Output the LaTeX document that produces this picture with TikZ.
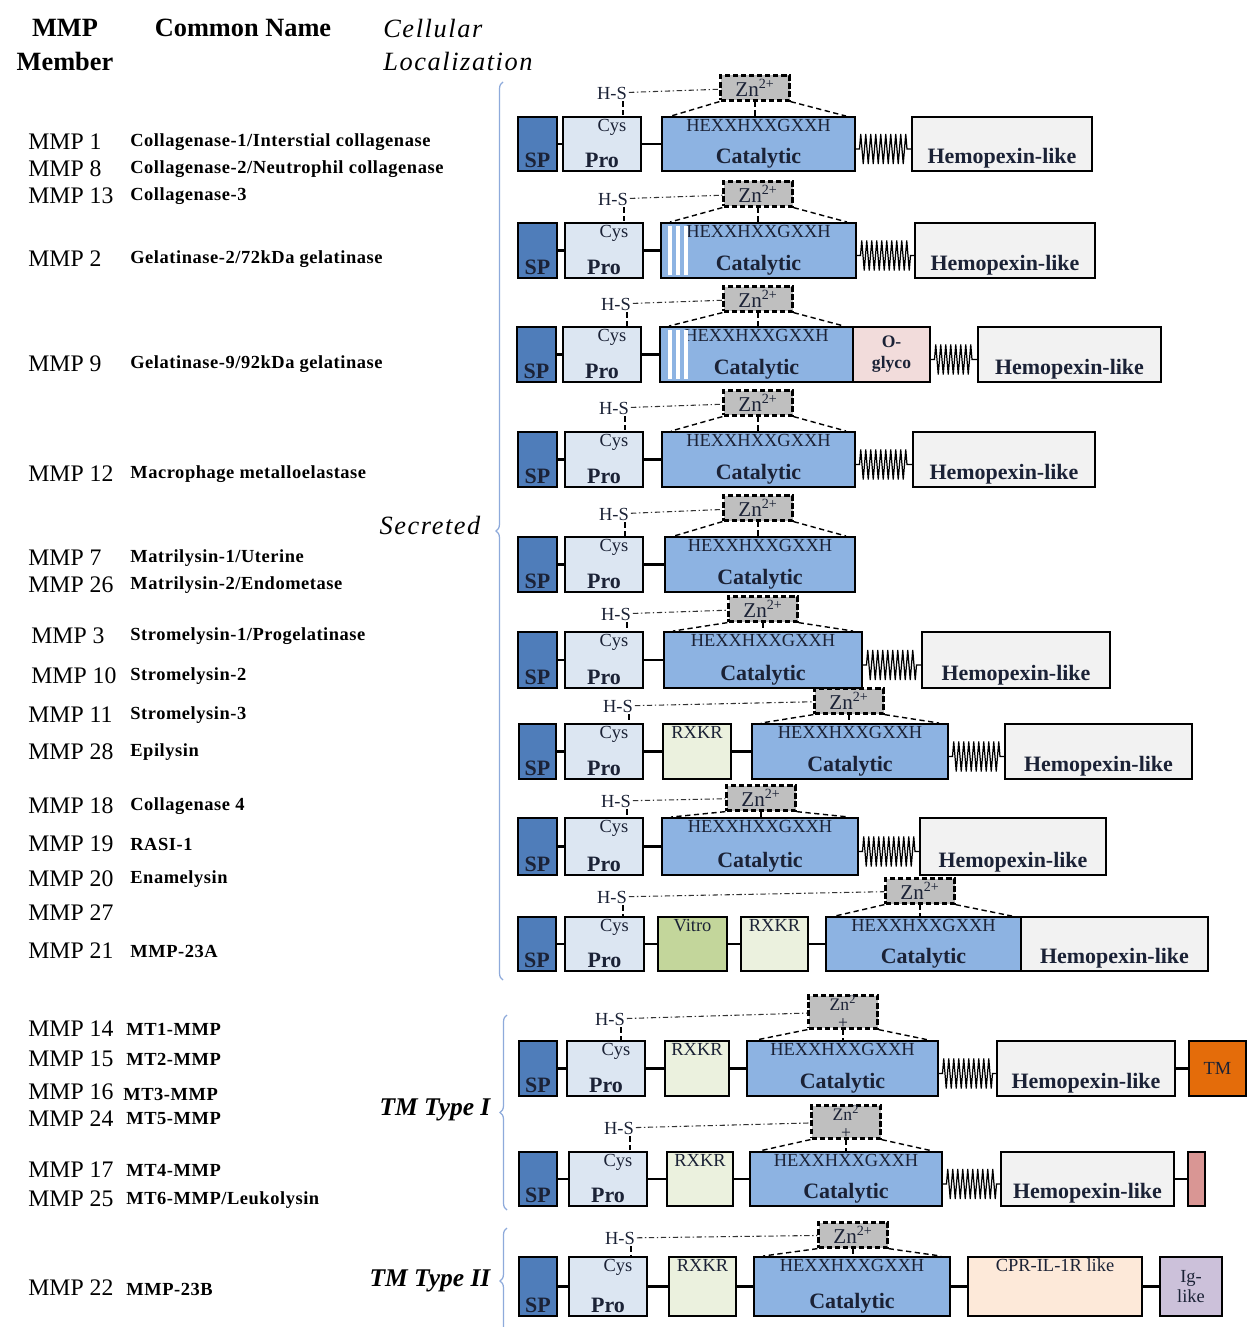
\documentclass[tikz,border=0pt]{standalone}
\usepackage{fontspec}
\setmainfont{Liberation Serif}
\usepackage{tikz}
\usetikzlibrary{positioning,decorations.pathmorphing,decorations.pathreplacing}

\definecolor{spblue}{HTML}{4F7DBA}
\definecolor{problue}{HTML}{DCE6F2}
\definecolor{catblue}{HTML}{8DB3E2}
\definecolor{hemgray}{HTML}{F2F2F2}
\definecolor{zngray}{HTML}{BFBFBF}
\definecolor{glycopink}{HTML}{F2DCDB}
\definecolor{furin}{HTML}{EBF1DE}
\definecolor{vitrogreen}{HTML}{C3D69B}
\definecolor{tmorange}{HTML}{E46C0A}
\definecolor{gpirose}{HTML}{D99694}
\definecolor{cprpeach}{HTML}{FDE9D9}
\definecolor{iglilac}{HTML}{CCC1DA}
\definecolor{bracecol}{HTML}{8EAADB}
\definecolor{ink}{HTML}{1B2236}

% domain box: name, style, x1, x2, y1, y2 (pixel units)
\newcommand{\dom}[6]{%
  \node[#2, minimum width={(#4-#3)*0.02cm}, minimum height={(#6-#5)*0.02cm}]
    (#1) at ({(#3+#4)/2},{(#5+#6)/2}) {};}

\tikzset{
  box/.style={draw, line width=1.1pt, inner sep=0pt},
  toptxt/.style={font=\fontsize{10.5}{11}\selectfont, text=ink, inner sep=1.5pt},
  bottxt/.style={font=\bfseries\fontsize{12.5}{12.5}\selectfont, text=ink, inner sep=2pt},
  midtxt/.style={font=\fontsize{10.5}{11}\selectfont, text=ink, align=center, inner sep=0pt},
  sp/.style={box, fill=spblue, label={[bottxt, anchor=south]south:SP}},
  pro/.style={box, fill=problue, label={[toptxt, anchor=north, xshift=0.2cm]north:Cys},
    label={[bottxt, anchor=south]south:Pro}},
  cat/.style={box, fill=catblue, label={[toptxt, anchor=north]north:HEXXHXXGXXH},
    label={[bottxt, anchor=south]south:Catalytic}},
  hem/.style={box, fill=hemgray, label={[bottxt, anchor=south]south:Hemopexin-like}},
  glyco/.style={box, fill=glycopink,
    label={[midtxt, font=\bfseries\fontsize{10}{12}\selectfont]center:O-\\glyco}},
  rxkr/.style={box, fill=furin, label={[toptxt, anchor=north]north:RXKR}},
  vitro/.style={box, fill=vitrogreen, label={[toptxt, anchor=north]north:Vitro}},
  tmdom/.style={box, fill=tmorange, label={[midtxt]center:TM}},
  gpi/.style={box, fill=gpirose},
  cpr/.style={box, fill=cprpeach, label={[toptxt, anchor=north]north:CPR-IL-1R like}},
  ig/.style={box, fill=iglilac, label={[midtxt]center:Ig-\\like}},
  zn/.style={draw, fill=zngray, line width=1.3pt, dash pattern=on 3pt off 1.6pt,
    minimum width=1.38cm, minimum height=0.5cm, inner sep=0pt,
    font=\fontsize{12}{12}\selectfont, text=ink},
  znw/.style={zn, minimum height=0.62cm, align=center, font=\fontsize{10}{10.5}\selectfont},
  hs/.style={font=\fontsize{10.5}{11}\selectfont, text=ink, inner sep=1pt},
  link/.style={line width=1.3pt},
  hsl/.style={line width=0.6pt, black!80, dash pattern=on 3pt off 1.5pt on 0.8pt off 1.5pt},
  cysl/.style={densely dashed, line width=0.6pt},
  znl/.style={densely dashed, line width=0.8pt},
  spring/.style={line width=0.7pt, decorate,
    decoration={zigzag, segment length=0.1cm, amplitude=0.3cm, pre length=2pt, post length=2pt}},
  brace/.style={bracecol, line width=0.7pt, decorate, decoration={brace, amplitude=4pt}},
  mmp/.style={anchor=west, inner sep=0pt, font=\fontsize{13.5}{13.5}\selectfont},
  cname/.style={anchor=west, inner sep=0pt,
    font=\bfseries\fontsize{10.5}{10.5}\selectfont\addfontfeature{LetterSpace=3}},
  head/.style={inner sep=0pt, font=\bfseries\fontsize{15}{19}\selectfont, align=center},
  loc/.style={inner sep=0pt, font=\itshape\fontsize{15}{19}\selectfont\addfontfeature{LetterSpace=6}},
  tmloc/.style={inner sep=0pt, font=\bfseries\itshape\fontsize{14.5}{16}\selectfont},
}

\begin{document}
\begin{tikzpicture}[x=0.02cm, y=-0.02cm]
  \useasboundingbox (0,0) rectangle (1248,1327);
  \fill[white] (0,0) rectangle (1248,1327);

  % headings
  \node[head] (hmmp) at (65,45) {MMP\\Member};
  \node[head] (hname) at (243,28) {Common Name};
  \node[loc, anchor=west, align=left] (hloc) at (383,45) {Cellular\\Localization};

  % members and common names
  \node[mmp] (m1) at (28,142) {MMP 1};
  \node[cname] (n1) at (130,142) {Collagenase-1/Interstial collagenase};
  \node[mmp] (m8) at (28,169) {MMP 8};
  \node[cname] (n8) at (130,169) {Collagenase-2/Neutrophil collagenase};
  \node[mmp] (m13) at (28,196) {MMP 13};
  \node[cname] (n13) at (130,196) {Collagenase-3};
  \node[mmp] (m2) at (28,259) {MMP 2};
  \node[cname] (n2) at (130,259) {Gelatinase-2/72kDa gelatinase};
  \node[mmp] (m9) at (28,364) {MMP 9};
  \node[cname] (n9) at (130,364) {Gelatinase-9/92kDa gelatinase};
  \node[mmp] (m12) at (28,474) {MMP 12};
  \node[cname] (n12) at (130,474) {Macrophage metalloelastase};
  \node[mmp] (m7) at (28,558) {MMP 7};
  \node[cname] (n7) at (130,558) {Matrilysin-1/Uterine};
  \node[mmp] (m26) at (28,585) {MMP 26};
  \node[cname] (n26) at (130,585) {Matrilysin-2/Endometase};
  \node[mmp] (m3) at (31,636) {MMP 3};
  \node[cname] (n3) at (130,636) {Stromelysin-1/Progelatinase};
  \node[mmp] (m10) at (31,676) {MMP 10};
  \node[cname] (n10) at (130,676) {Stromelysin-2};
  \node[mmp] (m11) at (28,715) {MMP 11};
  \node[cname] (n11) at (130,715) {Stromelysin-3};
  \node[mmp] (m28) at (28,752) {MMP 28};
  \node[cname] (n28) at (130,752) {Epilysin};
  \node[mmp] (m18) at (28,806) {MMP 18};
  \node[cname] (n18) at (130,806) {Collagenase 4};
  \node[mmp] (m19) at (28,844) {MMP 19};
  \node[cname] (n19) at (130,844) {RASI-1};
  \node[mmp] (m20) at (28,879) {MMP 20};
  \node[cname] (n20) at (130,879) {Enamelysin};
  \node[mmp] (m27) at (28,913) {MMP 27};
  \node[mmp] (m21) at (28,951) {MMP 21};
  \node[cname] (n21) at (130,951) {MMP-23A};
  \node[mmp] (m14) at (28,1029) {MMP 14};
  \node[cname] (n14) at (126,1029) {MT1-MMP};
  \node[mmp] (m15) at (28,1059) {MMP 15};
  \node[cname] (n15) at (126,1059) {MT2-MMP};
  \node[mmp] (m16) at (28,1092) {MMP 16};
  \node[cname] (n16) at (123,1094) {MT3-MMP};
  \node[mmp] (m24) at (28,1119) {MMP 24};
  \node[cname] (n24) at (126,1119) {MT5-MMP};
  \node[mmp] (m17) at (28,1170) {MMP 17};
  \node[cname] (n17) at (126,1170) {MT4-MMP};
  \node[mmp] (m25) at (28,1199) {MMP 25};
  \node[cname] (n25) at (126,1200) {MT6-MMP/Leukolysin};
  \node[mmp] (m22) at (28,1288) {MMP 22};
  \node[cname] (n22) at (126,1289) {MMP-23B};

  % localization braces
  \node[loc] (sec) at (430,525) {Secreted};
  \draw[brace] (503,980) -- (503,82);
  \node[tmloc] (tm1) at (435,1110) {TM Type I};
  \draw[brace] (507,1210) -- (507,1015);
  \node[tmloc] (tm2) at (430,1281) {TM Type II};
  \draw[brace] (507,1334) -- (507,1228);

  % row 1
  \dom{s1}{sp}{518}{557}{117}{171}
  \dom{p1}{pro}{563}{641}{117}{171}
  \dom{c1}{cat}{662}{855}{117}{171}
  \dom{e1}{hem}{912}{1092}{117}{171}
  \node[zn] (z1) at (755,88) {Zn\textsuperscript{2+}};
  \node[hs] (h1) at (612,93) {H-S};
  % row 2
  \dom{s2}{sp}{518}{557}{223}{278}
  \dom{p2}{pro}{565}{643}{223}{278}
  \dom{c2}{cat}{661}{856}{223}{278}
  \dom{e2}{hem}{915}{1095}{223}{278}
  \node[zn] (z2) at (758,194) {Zn\textsuperscript{2+}};
  \node[hs] (h2) at (613,199) {H-S};
  % row 3
  \dom{s3}{sp}{517}{556}{327}{382}
  \dom{p3}{pro}{563}{641}{327}{382}
  \dom{c3}{cat}{660}{853}{327}{382}
  \dom{g3}{glyco}{853}{930}{327}{382}
  \dom{e3}{hem}{978}{1161}{327}{382}
  \node[zn] (z3) at (758,299) {Zn\textsuperscript{2+}};
  \node[hs] (h3) at (616,304) {H-S};
  % row 4
  \dom{s4}{sp}{518}{557}{432}{487}
  \dom{p4}{pro}{565}{643}{432}{487}
  \dom{c4}{cat}{662}{855}{432}{487}
  \dom{e4}{hem}{913}{1095}{432}{487}
  \node[zn] (z4) at (758,403) {Zn\textsuperscript{2+}};
  \node[hs] (h4) at (614,408) {H-S};
  % row 5
  \dom{s5}{sp}{518}{557}{537}{592}
  \dom{p5}{pro}{565}{643}{537}{592}
  \dom{c5}{cat}{665}{855}{537}{592}
  \node[zn] (z5) at (758,508) {Zn\textsuperscript{2+}};
  \node[hs] (h5) at (614,514) {H-S};
  % row 6
  \dom{s6}{sp}{518}{557}{632}{688}
  \dom{p6}{pro}{565}{643}{632}{688}
  \dom{c6}{cat}{664}{862}{632}{688}
  \dom{e6}{hem}{922}{1110}{632}{688}
  \node[zn] (z6) at (763,609) {Zn\textsuperscript{2+}};
  \node[hs] (h6) at (616,614) {H-S};
  % row 7
  \dom{s7}{sp}{519}{556}{724}{779}
  \dom{p7}{pro}{565}{643}{724}{779}
  \dom{x7}{rxkr}{663}{731}{724}{779}
  \dom{c7}{cat}{752}{948}{724}{779}
  \dom{e7}{hem}{1005}{1192}{724}{779}
  \node[zn] (z7) at (849,701) {Zn\textsuperscript{2+}};
  \node[hs] (h7) at (618,706) {H-S};
  % row 8
  \dom{s8}{sp}{518}{557}{818}{875}
  \dom{p8}{pro}{565}{643}{818}{875}
  \dom{c8}{cat}{662}{858}{818}{875}
  \dom{e8}{hem}{920}{1106}{818}{875}
  \node[zn] (z8) at (761,798) {Zn\textsuperscript{2+}};
  \node[hs] (h8) at (616,801) {H-S};
  % row 9
  \dom{s9}{sp}{518}{556}{917}{971}
  \dom{p9}{pro}{565}{644}{917}{971}
  \dom{v9}{vitro}{658}{727}{917}{971}
  \dom{x9}{rxkr}{741}{808}{917}{971}
  \dom{c9}{cat}{826}{1021}{917}{971}
  \dom{e9}{hem}{1021}{1208}{917}{971}
  \node[zn] (z9) at (920,891) {Zn\textsuperscript{2+}};
  \node[hs] (h9) at (612,897) {H-S};
  % row 10
  \dom{s10}{sp}{519}{557}{1041}{1096}
  \dom{p10}{pro}{567}{645}{1041}{1096}
  \dom{x10}{rxkr}{665}{729}{1041}{1096}
  \dom{c10}{cat}{747}{938}{1041}{1096}
  \dom{e10}{hem}{997}{1175}{1041}{1096}
  \dom{t10}{tmdom}{1189}{1246}{1041}{1096}
  \node[znw] (z10) at (843,1012) {Zn\textsuperscript{2}\\+};
  \node[hs] (h10) at (610,1019) {H-S};
  % row 11
  \dom{s11}{sp}{519}{557}{1152}{1206}
  \dom{p11}{pro}{569}{647}{1152}{1206}
  \dom{x11}{rxkr}{667}{733}{1152}{1206}
  \dom{c11}{cat}{750}{942}{1152}{1206}
  \dom{e11}{hem}{1001}{1174}{1152}{1206}
  \dom{q11}{gpi}{1188}{1205}{1152}{1206}
  \node[znw] (z11) at (846,1122) {Zn\textsuperscript{2}\\+};
  \node[hs] (h11) at (619,1128) {H-S};
  % row 12
  \dom{s12}{sp}{519}{557}{1257}{1316}
  \dom{p12}{pro}{569}{647}{1257}{1316}
  \dom{x12}{rxkr}{669}{736}{1257}{1316}
  \dom{c12}{cat}{754}{950}{1257}{1316}
  \dom{k12}{cpr}{968}{1142}{1257}{1316}
  \dom{i12}{ig}{1160}{1222}{1257}{1316}
  \node[zn] (z12) at (853,1235) {Zn\textsuperscript{2+}};
  \node[hs] (h12) at (620,1238) {H-S};

  % fibronectin repeats
  \foreach \s in {670,678,686} {
    \draw[white, line width=2.2pt] (\s,226) -- (\s,275);
    \draw[white, line width=2.2pt] (\s,330) -- (\s,379);
  }

  % links common to every row
  \foreach \row in {1,...,12} {
    \draw[link] (s\row) -- (p\row);
    \draw[hsl] (h\row) -- (z\row);
    \draw[cysl] ([xshift=-0.12cm]h\row.south east) -- ([xshift=-0.12cm]h\row.south east |- p\row.north);
    \draw[znl] (z\row.south west) -- ([xshift=0.2cm]c\row.north west);
    \draw[znl] (z\row.south) -- (z\row.south |- c\row.north);
    \draw[znl] (z\row.south east) -- ([xshift=-0.2cm]c\row.north east);
  }

  \foreach \row in {1,...,6,8} \draw[link] (p\row) -- (c\row);
  \foreach \row in {7,10,11,12} \draw[link] (p\row) -- (x\row) -- (c\row);
  \draw[link] (p9) -- (v9) -- (x9) -- (c9);
  \draw[link] (e10) -- (t10);
  \draw[link] (e11) -- (q11);
  \draw[link] (c12) -- (k12) -- (i12);

  % hinge springs
  \foreach \row in {1,2,4,6,7,8,10,11}
    \draw[spring] ([yshift=-0.1cm]c\row.east) -- ([yshift=-0.1cm]e\row.west);
  \draw[spring] ([yshift=-0.1cm]g3.east) -- ([yshift=-0.1cm]e3.west);
\end{tikzpicture}
\end{document}
